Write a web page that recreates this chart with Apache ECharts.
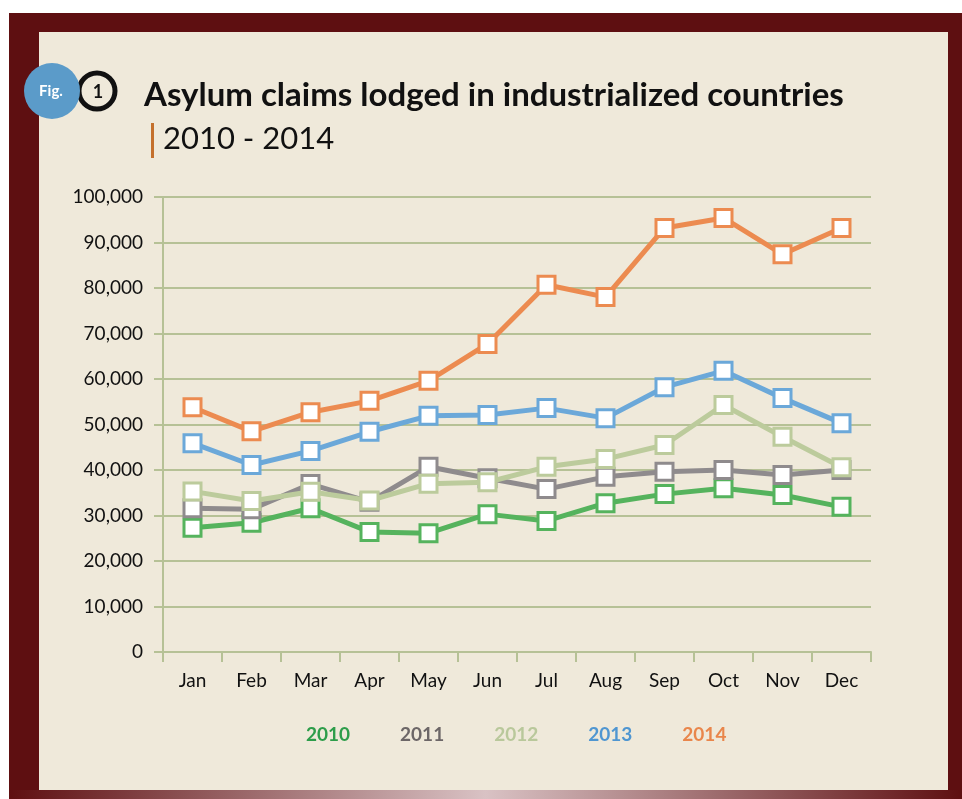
<!DOCTYPE html>
<html>
<head>
<meta charset="utf-8">
<title>Asylum claims lodged in industrialized countries</title>
<script src="https://cdn.jsdelivr.net/npm/echarts@6/dist/echarts.min.js"></script>
<style>
  html, body { margin: 0; padding: 0; background: #ffffff; }
  #chart { width: 962px; height: 799px; }
</style>
</head>
<body>
<div id="chart"></div>
<script>
// months on the x axis
const months = ['Jan', 'Feb', 'Mar', 'Apr', 'May', 'Jun', 'Jul', 'Aug', 'Sep', 'Oct', 'Nov', 'Dec'];
const years = ['2010', '2011', '2012', '2013', '2014'];

// monthly claims
const claims2010 = [27300, 28400, 31600, 26400, 26100, 30300, 28800, 32700, 34700, 36000, 34500, 31900];
const claims2011 = [31600, 31400, 36900, 33000, 40700, 38200, 35800, 38500, 39600, 40000, 38900, 40000];
const claims2012 = [35300, 33200, 35200, 33300, 37000, 37300, 40700, 42400, 45500, 54300, 47300, 40600];
const claims2013 = [45900, 41100, 44200, 48400, 51900, 52100, 53600, 51400, 58200, 61800, 55800, 50300];
const claims2014 = [53800, 48500, 52700, 55200, 59600, 67700, 80700, 78000, 93200, 95400, 87400, 93200];

const lineColors = ['#55b35d', '#8f8b8d', '#bccb9c', '#6ba8d9', '#ec8b50'];
const legendColors = ['#2d9d4a', '#6c6667', '#b9c89b', '#4f96d1', '#e9864b'];
const seriesData = [claims2010, claims2011, claims2012, claims2013, claims2014];

const chart = echarts.init(document.getElementById('chart'), null, { renderer: 'canvas' });

const gridColor = '#b6c196';

function makeSeries(i) {
    return {
        name: years[i],
        type: 'line',
        data: seriesData[i],
        symbol: 'rect',
        symbolSize: 17,
        z: 2 + i,
        lineStyle: { color: lineColors[i], width: 5 },
        itemStyle: { color: '#ffffff', borderColor: lineColors[i], borderWidth: 3 },
        emphasis: { disabled: true },
        animation: false
    };
}

const option = {
    backgroundColor: '#ffffff',
    textStyle: { fontFamily: 'Lato' },
    graphic: [
        // dark red frame
        { type: 'rect', z: -10, silent: true, shape: { x: 9, y: 13, width: 953, height: 786 }, style: { fill: '#5e0f11' } },
        {
            type: 'rect', z: -9, silent: true, shape: { x: 9, y: 790, width: 953, height: 9 },
            style: {
                fill: new echarts.graphic.LinearGradient(0, 0, 1, 0, [
                    { offset: 0, color: '#5e0f11' },
                    { offset: 0.5, color: '#d9c2c4' },
                    { offset: 1, color: '#5e0f11' }
                ])
            }
        },
        // cream panel
        { type: 'rect', z: -8, silent: true, shape: { x: 39, y: 32, width: 909, height: 758 }, style: { fill: '#efe9da' } },
        // figure badge
        { type: 'circle', z: 10, shape: { cx: 97, cy: 91, r: 18 }, style: { fill: 'none', stroke: '#111111', lineWidth: 5 } },
        { type: 'text', z: 11, style: { x: 98, y: 92, text: '1', fill: '#111111', font: 'bold 18px Lato', align: 'center', verticalAlign: 'middle' } },
        { type: 'circle', z: 12, shape: { cx: 52, cy: 91, r: 28 }, style: { fill: '#5b9bc9' } },
        { type: 'text', z: 13, style: { x: 51, y: 91, text: 'Fig.', fill: '#ffffff', font: 'bold 15px Lato', align: 'center', verticalAlign: 'middle' } },
        // title and subtitle
        { type: 'text', z: 10, style: { x: 144, y: 95, text: 'Asylum claims lodged in industrialized countries', fill: '#111111', font: 'bold 33px Lato', verticalAlign: 'middle' } },
        { type: 'rect', z: 10, shape: { x: 151, y: 123, width: 3, height: 35 }, style: { fill: '#c4702c' } },
        { type: 'text', z: 10, style: { x: 163, y: 139, text: '2010 - 2014', fill: '#111111', font: '31px Lato', verticalAlign: 'middle' } }
    ],
    legend: {
        top: 720,
        left: 296,
        icon: 'none',
        itemWidth: 0,
        itemGap: 45,
        selectedMode: false,
        textStyle: { fontSize: 19, fontWeight: 'bold', fontFamily: 'Lato' },
        data: years.map((y, i) => ({ name: y, textStyle: { color: legendColors[i] } }))
    },
    grid: { left: 163, right: 91, top: 197, bottom: 147 },
    xAxis: {
        type: 'category',
        data: months,
        boundaryGap: true,
        axisLine: { lineStyle: { color: gridColor, width: 2 } },
        axisTick: { show: true, length: 10, lineStyle: { color: gridColor, width: 2 } },
        axisLabel: { color: '#111111', fontSize: 19, margin: 19, fontFamily: 'Lato' }
    },
    yAxis: {
        type: 'value',
        min: 0,
        max: 100000,
        interval: 10000,
        axisLine: { show: true, lineStyle: { color: gridColor, width: 2 } },
        axisTick: { show: true, length: 9, lineStyle: { color: gridColor, width: 2 } },
        splitLine: { lineStyle: { color: gridColor, width: 2 } },
        axisLabel: {
            color: '#111111', fontSize: 19, margin: 20, fontFamily: 'Lato',
            formatter: (v) => v.toLocaleString('en-US')
        }
    },
    series: years.map((y, i) => makeSeries(i))
};

chart.setOption(option);
</script>
</body>
</html>
